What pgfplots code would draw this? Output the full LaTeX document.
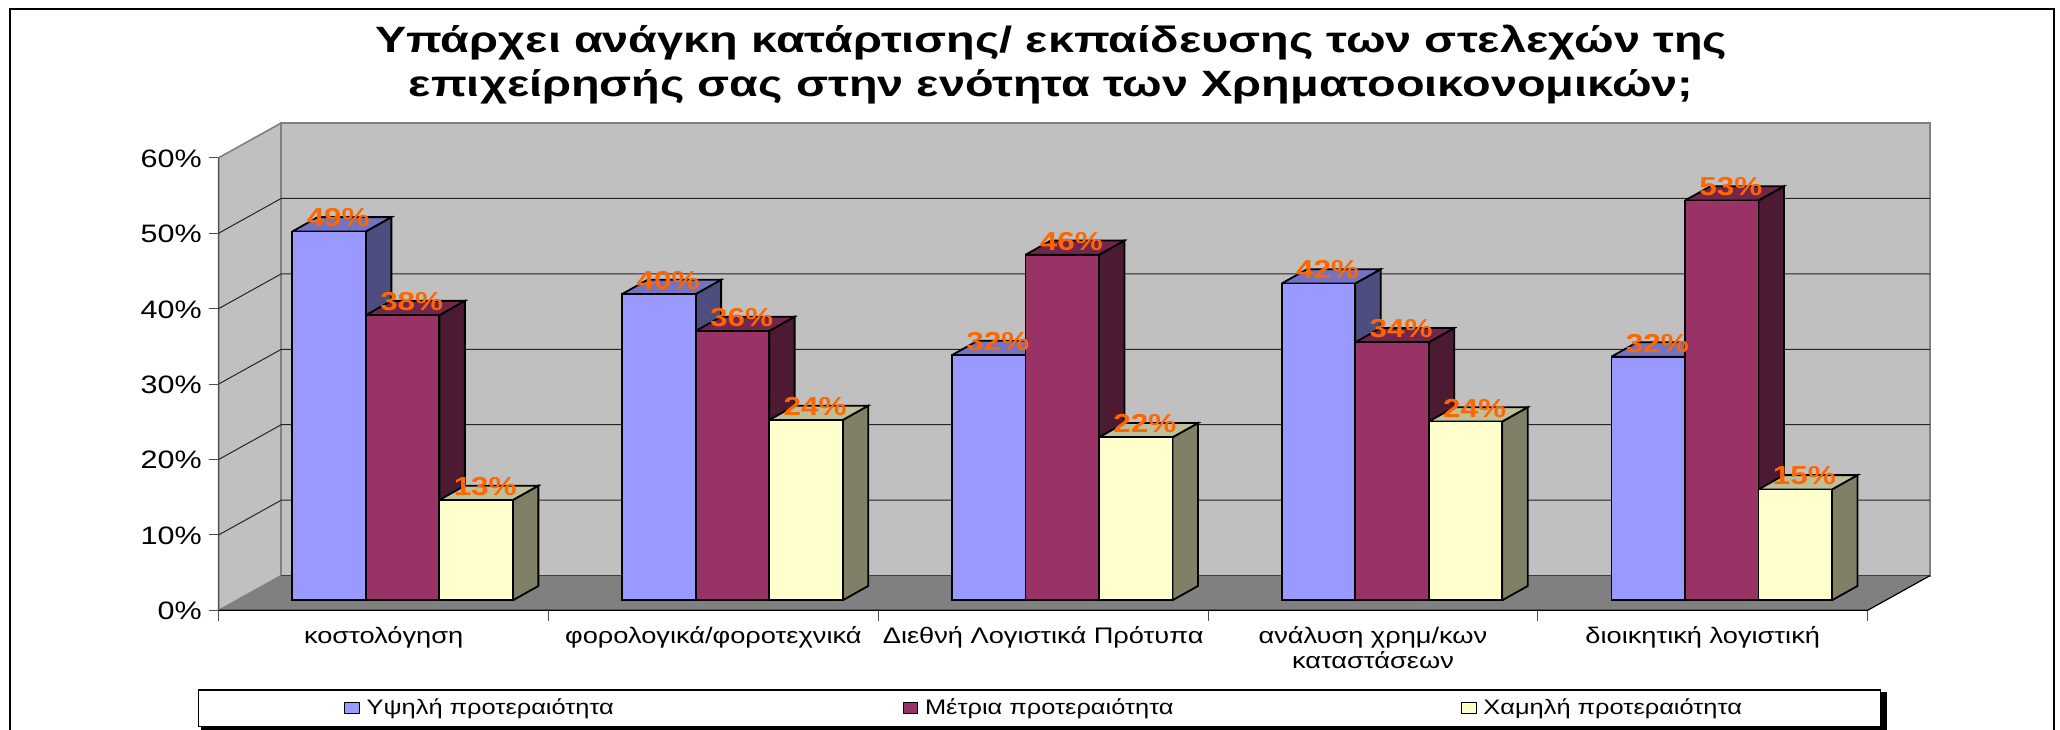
\documentclass[border=0pt]{standalone}
\usepackage{fontspec}
\setmainfont[FakeStretch=1.21]{Liberation Sans}
\newfontfamily\titlefont[FakeStretch=1.28]{Liberation Sans}
\usepackage{pgfplots}
\usepackage{pgfplotstable}
\pgfplotsset{compat=1.18}

\definecolor{cHigh}{HTML}{9999FF}\definecolor{cHighTop}{HTML}{7373BF}\definecolor{cHighSide}{HTML}{4D4D80}
\definecolor{cMid}{HTML}{993366}\definecolor{cMidTop}{HTML}{73264D}\definecolor{cMidSide}{HTML}{4D1A33}
\definecolor{cLow}{HTML}{FFFFCC}\definecolor{cLowTop}{HTML}{BFBF99}\definecolor{cLowSide}{HTML}{808066}
\definecolor{cLab}{HTML}{FF6600}\definecolor{cWall}{HTML}{C0C0C0}\definecolor{cFloor}{HTML}{808080}

\pgfplotstableread{
x y lab
0.5 48.9 49
1.5 40.6 40
2.5 32.5 32
3.5 42.0 42
4.5 32.3 32
}\tblHigh
\pgfplotstableread{
x y lab
0.5 37.8 38
1.5 35.7 36
2.5 45.8 46
3.5 34.2 34
4.5 53.0 53
}\tblMid
\pgfplotstableread{
x y lab
0.5 13.3 13
1.5 23.9 24
2.5 21.6 22
3.5 23.7 24
4.5 14.7 15
}\tblLow

% side and top faces of the 3D bars, read from the same tables
\newcommand\depthfaces[4]{%
 \pgfplotsinvokeforeach{0,...,4}{%
  \pgfplotstablegetelem{##1}{y}\of#1\let\myv\pgfplotsretval
  \pgfmathsetmacro\xL{##1+0.5576+(#2-1.5)*0.2229}%
  \pgfmathsetmacro\xR{\xL+0.2229}%
  \pgfmathsetmacro\xRb{\xR+0.0773}%
  \pgfmathsetmacro\xLb{\xL+0.0773}%
  \pgfmathsetmacro\yB{1.326}%
  \pgfmathsetmacro\yBb{1.326+1.896}%
  \pgfmathsetmacro\yT{1.326+\myv}%
  \pgfmathsetmacro\yTb{\yT+1.896}%
  \addplot[forget plot,fill=#3,draw=black,line width=.9pt,line join=miter] coordinates {(\xR,\yB)(\xR,\yT)(\xRb,\yTb)(\xRb,\yBb)(\xR,\yB)};
  \addplot[forget plot,fill=#4,draw=black,line width=.9pt,line join=miter] coordinates {(\xL,\yT)(\xR,\yT)(\xRb,\yTb)(\xLb,\yTb)(\xL,\yT)};
 }%
}

\begin{document}
\begin{tikzpicture}
\path[use as bounding box] (-109.375pt,-59.35pt) rectangle (920.625pt,305.15pt);
\draw[black,line width=1pt] (-104.2pt,-70pt) rectangle (917.6pt,300.8pt);
\fill[black] (-8.9pt,-62pt) rectangle (834pt,-40.85pt);
\begin{axis}[
  at={(0,0)},anchor=south west,
  scale only axis,width=824.425pt,height=226.3pt,
  xmin=0,xmax=5,ymin=0,ymax=60,clip=false,
  axis x line*=bottom,axis y line*=left,
  axis line style={-,draw=black!65,line width=.6pt},
  tick style={draw=black!70,line width=.5pt},tick align=outside,
  ytick={0,10,...,60},
  yticklabels={0\%,10\%,20\%,30\%,40\%,50\%,60\%},
  yticklabel style={font=\fontsize{12.6}{14}\selectfont,inner sep=0pt,xshift=-3.2pt,yshift=-.4pt},
  major tick length=5.1pt,
  xtick={0,1,2,3,4,5},
  xticklabels={},
  extra x ticks={0.5,1.5,2.5,3.5,4.5},
  extra x tick labels={κοστολόγηση,φορολογικά/φοροτεχνικά,Διεθνή Λογιστικά Πρότυπα,{ανάλυση χρημ/κων\\καταστάσεων},διοικητική λογιστική},
  extra x tick style={major tick length=0pt,tick style={draw=none},
     xticklabel style={font=\fontsize{11.25}{12.5}\selectfont,align=center,anchor=north,inner sep=0pt,yshift=-7.9pt}},
  title={Υπάρχει ανάγκη κατάρτισης/ εκπαίδευσης των στελεχών της\\επιχείρησής σας στην ενότητα των Χρηματοοικονομικών;},
  title style={font=\titlefont\bfseries\fontsize{18.3}{22}\selectfont,align=center,at={(axis description cs:0.5047,1.0908)},anchor=south,inner sep=0pt},
  legend columns=3,
  legend style={at={(axis description cs:-0.0127,-0.17455)},anchor=north west,
    draw=black,line width=.6pt,fill=white,inner xsep=72.9pt,inner ysep=4.5pt,
    font=\fontsize{10.5}{12}\selectfont,
    nodes={inner sep=0pt,text depth=.15em},
    /tikz/every odd column/.append style={column sep=3.3pt},
    /tikz/every even column/.append style={column sep=143pt}},
]
% walls and floor
\addplot[forget plot,fill=cWall,draw=cFloor,line width=.8pt] coordinates {(0,0)(0,60)(0.1895,64.6)(0.1895,4.6)(0,0)};
\addplot[forget plot,fill=cWall,draw=cFloor,line width=.9pt] coordinates {(0.1895,4.6)(0.1895,64.6)(5.1895,64.6)(5.1895,4.6)(0.1895,4.6)};
\addplot[forget plot,fill=cFloor,draw=none] coordinates {(0,0)(0.1895,4.6)(5.1895,4.6)(5,0)(0,0)};
\addplot[forget plot,draw=black!75,line width=.6pt] coordinates {(0.1895,4.6)(5.1895,4.6)};
\addplot[forget plot,draw=black,line width=.6pt] coordinates {(0,0)(5,0)(5.1895,4.6)};
\addplot[forget plot,draw=black!70,line width=.6pt] coordinates {(0,0)(0,60)};
% gridlines
\addplot[forget plot,draw=black!85,line width=.5pt] coordinates {(0,10)(0.1895,14.6)(5.1895,14.6)};
\addplot[forget plot,draw=black!85,line width=.5pt] coordinates {(0,20)(0.1895,24.6)(5.1895,24.6)};
\addplot[forget plot,draw=black!85,line width=.5pt] coordinates {(0,30)(0.1895,34.6)(5.1895,34.6)};
\addplot[forget plot,draw=black!85,line width=.5pt] coordinates {(0,40)(0.1895,44.6)(5.1895,44.6)};
\addplot[forget plot,draw=black!85,line width=.5pt] coordinates {(0,50)(0.1895,54.6)(5.1895,54.6)};

% series 1
\depthfaces{\tblHigh}{0}{cHighSide}{cHighTop}
\addplot[ybar,/pgf/bar width=36.75pt,/pgf/bar shift=-36.75pt,xshift=9.5pt,yshift=5pt,fill=cHigh,draw=black,line width=.9pt,
  legend image code/.code={\draw[fill=cHigh,draw=black,line width=.5pt] (0pt,-7.4pt) rectangle (7.4pt,-1.9pt);}]
  table[x=x,y=y] {\tblHigh};
\addlegendentry{\makebox[125pt][l]{Υψηλή προτεραιότητα}}
% series 2
\depthfaces{\tblMid}{1}{cMidSide}{cMidTop}
\addplot[ybar,/pgf/bar width=36.75pt,/pgf/bar shift=0pt,xshift=9.5pt,yshift=5pt,fill=cMid,draw=black,line width=.9pt,
  legend image code/.code={\draw[fill=cMid,draw=black,line width=.5pt] (0pt,-7.4pt) rectangle (7.4pt,-1.9pt);}]
  table[x=x,y=y] {\tblMid};
\addlegendentry{\makebox[125pt][l]{Μέτρια προτεραιότητα}}
% series 3
\depthfaces{\tblLow}{2}{cLowSide}{cLowTop}
\addplot[ybar,/pgf/bar width=36.75pt,/pgf/bar shift=36.75pt,xshift=9.5pt,yshift=5pt,fill=cLow,draw=black,line width=.9pt,
  legend image code/.code={\draw[fill=cLow,draw=black,line width=.5pt] (0pt,-7.4pt) rectangle (7.4pt,-1.9pt);}]
  table[x=x,y=y] {\tblLow};
\addlegendentry{\makebox[125.5pt][l]{Χαμηλή προτεραιότητα}}

% value labels, on top of everything
\pgfplotsset{vlabel/.style={forget plot,draw=none,mark=none,point meta=explicit symbolic,
  nodes near coords={\pgfplotspointmeta\%},
  every node near coord/.append style={anchor=center,text=cLab,font=\bfseries\fontsize{13}{14}\selectfont,inner sep=0pt,
    xshift=#1,yshift=11.75pt}}}
\addplot[vlabel=-22.7pt] table[x=x,y=y,meta=lab] {\tblHigh};
\addplot[vlabel=14.05pt] table[x=x,y=y,meta=lab] {\tblMid};
\addplot[vlabel=50.8pt] table[x=x,y=y,meta=lab] {\tblLow};
\end{axis}
\end{tikzpicture}
\end{document}
